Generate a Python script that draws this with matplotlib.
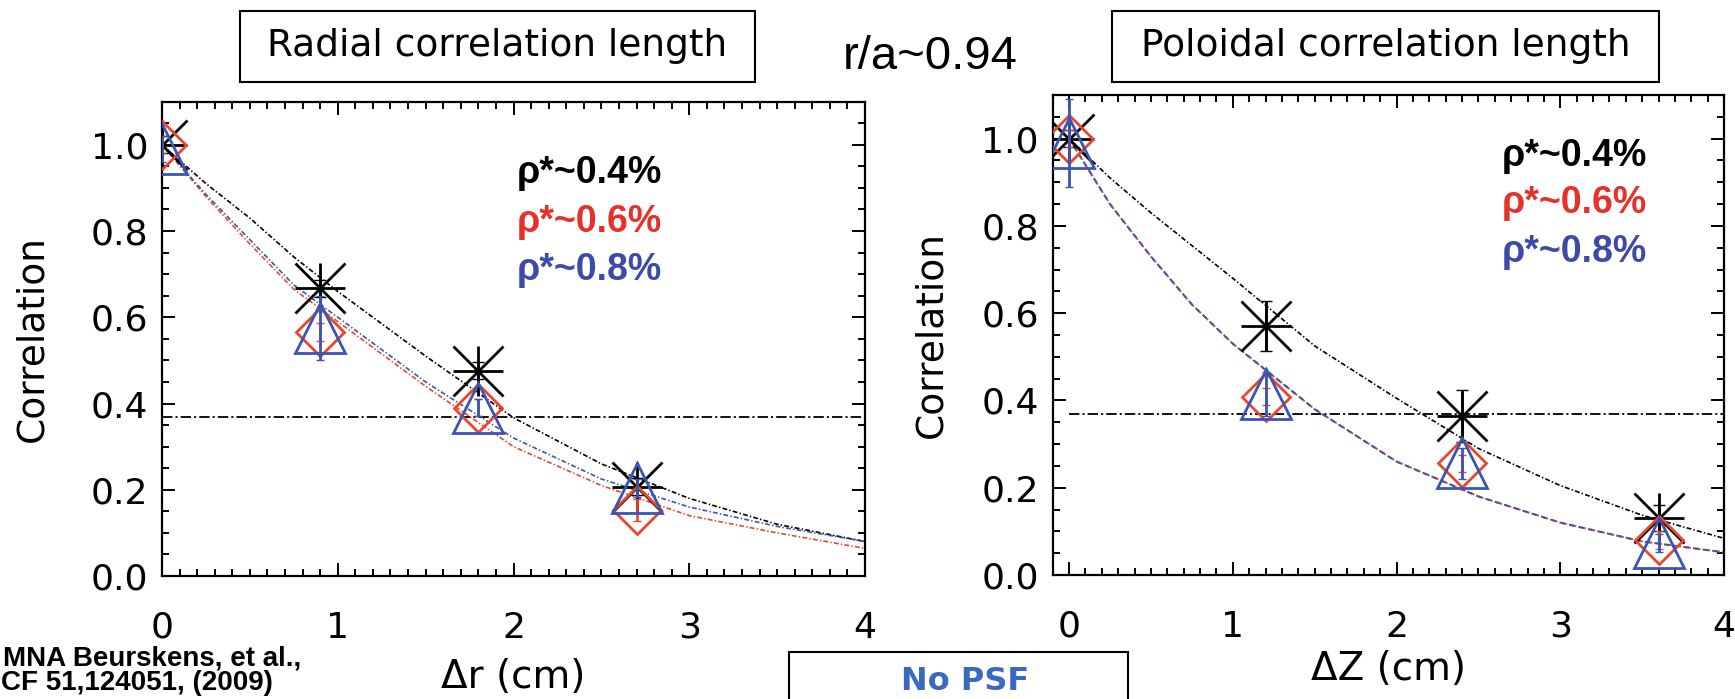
import matplotlib
matplotlib.use("Agg")
import matplotlib.pyplot as plt
from matplotlib.patches import Rectangle
from matplotlib.ticker import MultipleLocator
from matplotlib import font_manager

plt.rcParams['lines.scale_dashes'] = False

# ---- radial correlation (left panel) ----
dr = [0.0, 0.9, 1.8, 2.7]
rad_black = [1.0, 0.667, 0.476, 0.207]
rad_red = [1.0, 0.566, 0.390, 0.153]
rad_blue = [0.99, 0.575, 0.390, 0.204]
rad_black_err = [0.02, 0.02, 0.02, 0.02]
rad_red_err = [0.02, 0.02, 0.02, 0.025]
rad_blue_err = [0.03, 0.075, 0.02, 0.02]

# fitted curves
fit_x = [0.0, 0.25, 0.5, 0.75, 1.0, 1.5, 2.0, 2.5, 3.0, 3.5, 4.0]
rad_fit_black = [1.0, 0.91, 0.83, 0.74, 0.66, 0.51, 0.367, 0.26, 0.18, 0.12, 0.08]
rad_fit_red = [1.0, 0.88, 0.77, 0.665, 0.59, 0.44, 0.30, 0.21, 0.14, 0.10, 0.064]
rad_fit_blue = [1.0, 0.885, 0.78, 0.675, 0.60, 0.45, 0.32, 0.225, 0.16, 0.115, 0.08]

# ---- poloidal correlation (right panel) ----
dz = [0.0, 1.2, 2.4, 3.6]
pol_black = [1.0, 0.570, 0.365, 0.130]
pol_red = [1.0, 0.409, 0.256, 0.080]
pol_blue = [0.99, 0.415, 0.256, 0.073]
pol_black_err = [0.02, 0.057, 0.06, 0.03]
pol_red_err = [0.02, 0.02, 0.02, 0.02]
pol_blue_err = [0.10, 0.05, 0.035, 0.02]

pol_fit_black = [1.0, 0.91, 0.83, 0.755, 0.68, 0.525, 0.405, 0.29, 0.205, 0.137, 0.084]
pol_fit_red = [1.0, 0.85, 0.73, 0.62, 0.53, 0.38, 0.26, 0.18, 0.12, 0.077, 0.052]
pol_fit_blue = [1.0, 0.85, 0.73, 0.62, 0.53, 0.38, 0.26, 0.18, 0.12, 0.077, 0.052]

one_over_e = 0.368
rho_labels = ['ρ*~0.4%', 'ρ*~0.6%', 'ρ*~0.8%']

BLACK = 'black'
RED = '#E9472B'
BLUE = '#3A55B2'
TXT_RED = '#E8302A'
TXT_BLUE = '#3D4AA8'

names = {f.name for f in font_manager.fontManager.ttflist}
narrow = 'Liberation Sans Narrow' in names

fig = plt.figure(figsize=(17.35, 6.99), dpi=100)
W, H = 1735, 699

ax1 = fig.add_axes([162 / W, 1 - 576 / H, 703 / W, 474.3 / H])
ax2 = fig.add_axes([1052.7 / W, 1 - 575 / H, 671.3 / W, 480 / H])

small_dd = (3.5, 1.6, 1.0, 1.6)
long_dd = (7.5, 2.2, 1.5, 2.2)


def draw_markers(ax, x, yb, yr, yblue, eb, er, ebl):
    ax.errorbar(x, yb, yerr=eb, fmt='none', ecolor=BLACK, elinewidth=1.8, capsize=4, zorder=4)
    ax.plot(x, yb, ls='none', marker='+', ms=36, mew=2.0, color=BLACK, zorder=4)
    ax.plot(x, yb, ls='none', marker='x', ms=36, mew=2.0, color=BLACK, zorder=4)
    ax.errorbar(x, yr, yerr=er, fmt='none', ecolor=RED, elinewidth=1.8, capsize=3, zorder=5)
    ax.plot(x, yr, ls='none', marker='D', ms=24, mew=2.0, mfc='none', mec=RED, zorder=5)
    ax.errorbar(x, yblue, yerr=ebl, fmt='none', ecolor=BLUE, elinewidth=2.0, capsize=3, zorder=6)
    ax.plot(x, yblue, ls='none', marker='^', ms=36, mew=2.0, mfc='none', mec=BLUE, zorder=6)


def style_axis(ax, xlim, xlabel, ylab_x, xlab_y):
    ax.set_xlim(*xlim)
    ax.set_ylim(0, 1.1)
    ax.xaxis.set_minor_locator(MultipleLocator(0.1))
    ax.yaxis.set_minor_locator(MultipleLocator(0.05))
    ax.set_xticks([0, 1, 2, 3, 4])
    ax.set_xticklabels(['0', '1', '2', '3', '4'])
    ax.set_yticks([0, 0.2, 0.4, 0.6, 0.8, 1.0])
    ax.set_yticklabels(['0.0', '0.2', '0.4', '0.6', '0.8', '1.0'])
    ax.tick_params(which='both', direction='in', top=True, right=True, width=1.4)
    ax.tick_params(which='major', length=9.5)
    ax.tick_params(which='minor', length=5)
    ax.tick_params(axis='x', labelsize=26, pad=25)
    ax.tick_params(axis='y', labelsize=26, pad=10)
    for s in ax.spines.values():
        s.set_linewidth(1.6)
    ax.set_ylabel('Correlation', fontsize=27)
    ax.yaxis.set_label_coords(ylab_x, 0.5)
    ax.set_xlabel(xlabel, fontsize=28)
    ax.xaxis.set_label_coords(0.5, xlab_y)
    ax.xaxis.label.set_va('center')
    ax.yaxis.label.set_va('center')


# left panel
ax1.plot(fit_x, rad_fit_black, color=BLACK, lw=1.2, dashes=small_dd, zorder=2)
ax1.plot(fit_x, rad_fit_red, color=RED, lw=1.2, dashes=small_dd, zorder=2)
ax1.plot(fit_x, rad_fit_blue, color=BLUE, lw=1.2, dashes=small_dd, zorder=2)
ax1.hlines(one_over_e, 0, 4, color=BLACK, lw=1.3, linestyles=[(0, long_dd)], zorder=3)
draw_markers(ax1, dr, rad_black, rad_red, rad_blue, rad_black_err, rad_red_err, rad_blue_err)
style_axis(ax1, (0, 4), 'Δr (cm)', -0.185, -0.213)

# right panel
ax2.plot(fit_x, pol_fit_black, color=BLACK, lw=1.2, dashes=small_dd, zorder=2)
ax2.plot(fit_x, pol_fit_red, color=RED, lw=1.4, ls=(0, (4, 3)), zorder=2)
ax2.plot(fit_x, pol_fit_blue, color=BLUE, lw=1.4, ls=(1.5, (4, 3)), zorder=2)
ax2.hlines(one_over_e, 0, 4, color=BLACK, lw=1.3, linestyles=[(0, long_dd)], zorder=3)
draw_markers(ax2, dz, pol_black, pol_red, pol_blue, pol_black_err, pol_red_err, pol_blue_err)
style_axis(ax2, (-0.1, 4), 'ΔZ (cm)', -0.181, -0.196)

# rho* labels
for ax, x0, ys in [(ax1, 0.5046, [0.828, 0.726, 0.624]), (ax2, 0.669, [0.852, 0.754, 0.653])]:
    for lab, col, y in zip(rho_labels, [BLACK, TXT_RED, TXT_BLUE], ys):
        ax.text(x0, y, lab, transform=ax.transAxes, color=col, fontsize=27,
                fontweight='bold', family='Liberation Sans', va='baseline', ha='left', zorder=7)

# title boxes
fig.add_artist(Rectangle((240 / W, 1 - 82 / H), 515 / W, 71 / H, transform=fig.transFigure,
                         fill=False, lw=1.5, ec='black'))
fig.text(497.5 / W, 1 - 46.5 / H, 'Radial correlation length', fontsize=27,
         ha='center', va='center')
fig.add_artist(Rectangle((1112 / W, 1 - 82 / H), 547 / W, 71 / H, transform=fig.transFigure,
                         fill=False, lw=1.5, ec='black'))
fig.text(1385.5 / W, 1 - 46.5 / H, 'Poloidal correlation length', fontsize=27,
         ha='center', va='center')
fig.text(930 / W, 1 - 57 / H, 'r/a~0.94', fontsize=34, family='Liberation Sans',
         ha='center', va='center')

# "No PSF" box at the bottom
fig.add_artist(Rectangle((789 / W, 1 - 652 / H - 0.2), 339 / W, 0.2, transform=fig.transFigure,
                         fill=False, lw=1.5, ec='black'))
fig.text(965 / W, 2 / H, 'No PSF', fontsize=23, fontweight='bold',
         color='#3B68C0', ha='center', va='bottom')

# reference
cite_fam = ['Liberation Sans Narrow'] if narrow else ['Liberation Sans']
cite_size = 24 if narrow else 20
fig.text(3 / W, 1 - 658 / H, 'MNA Beurskens, et al.,', fontsize=cite_size, fontweight='bold',
         family=cite_fam, ha='left', va='center')
fig.text(1 / W, 3 / H, 'CF 51,124051, (2009)', fontsize=cite_size, fontweight='bold',
         family=cite_fam, ha='left', va='bottom')

fig.savefig('out.png', dpi=100)
